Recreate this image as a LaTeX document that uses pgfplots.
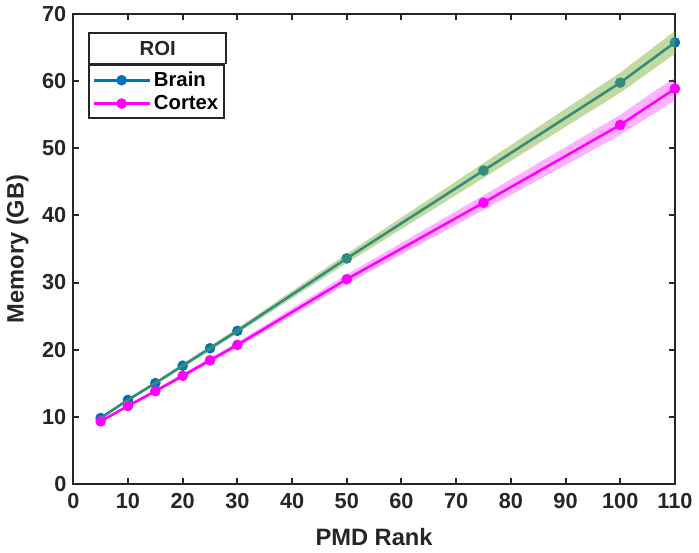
\documentclass[border=0pt]{standalone}
\usepackage{fontspec}
\setmainfont{Liberation Sans}
\usepackage{pgfplots}
\usepackage{pgfplotstable}
\pgfplotsset{compat=1.18}
\usetikzlibrary{calc}
\definecolor{mblue}{RGB}{0,114,189}
\definecolor{mgreen}{RGB}{119,172,48}
\definecolor{mmag}{RGB}{255,0,255}
\definecolor{axgray}{RGB}{38,38,38}

% rank and mean memory
\pgfplotstableread{
x    brain cortex
5    9.8   9.3
10   12.5  11.6
15   15.0  13.8
20   17.6  16.1
25   20.2  18.4
30   22.8  20.7
50   33.6  30.5
75   46.7  41.9
100  59.8  53.5
110  65.8  58.9
}\memdata

\begin{document}
\begin{tikzpicture}
\begin{axis}[
    scale only axis,
    width=305pt, height=238pt,
    xmin=0, xmax=110, ymin=0, ymax=70,
    xtick={0,10,...,110}, ytick={0,10,...,70},
    tick align=inside, major tick length=3pt,
    axis line style={axgray, line width=1pt},
    every tick/.style={axgray, line width=1pt},
    ticklabel style={font=\bfseries\fontsize{11}{13}\selectfont, text=axgray},
    xticklabel style={yshift=-1.5pt},
    /pgf/number format/assume math mode=true,
    xlabel={\bfseries PMD Rank}, ylabel={\bfseries Memory (GB)},
    xlabel shift=3pt,
    label style={font=\fontsize{12}{14}\selectfont, text=axgray},
    clip=false, clip marker paths=true,
    legend style={at={(rel axis cs:0.025,0.893)}, anchor=north west, name=leg,
        draw=axgray, line width=1pt, font=\bfseries\fontsize{10.3}{12}\selectfont,
        inner sep=1.5pt, nodes={inner sep=1.5pt}, row sep=0pt, cells={anchor=west}},
    legend image code/.code={\draw[mark repeat=2,mark phase=2]
        plot coordinates {(0cm,0cm)(0.5cm,0cm)(1cm,0cm)};},
]
\addplot[mblue, line width=1.3pt, mark=*, mark size=2pt] table[x=x, y=brain] {\memdata};
\addlegendentry{Brain}
\addplot[mmag, line width=1.3pt, mark=*, mark size=2pt] table[x=x, y=cortex] {\memdata};
\addlegendentry{Cortex}

% spread bands: upper edge, then lower edge back
\addplot[draw=none, fill=mgreen, fill opacity=0.45, forget plot] coordinates {
    (5,9.95)(10,12.7)(15,15.25)(20,17.9)(25,20.55)(30,23.2)(50,34.3)(75,47.8)(100,61.3)(110,67.5)
    (110,64.1)(100,58.3)(75,45.6)(50,32.9)(30,22.4)(25,19.85)(20,17.3)(15,14.75)(10,12.3)(5,9.65)
} -- cycle;
\addplot[draw=none, fill=mmag, fill opacity=0.3, forget plot] coordinates {
    (5,9.45)(10,11.8)(15,14.05)(20,16.4)(25,18.75)(30,21.1)(50,31.2)(75,43.0)(100,55.0)(110,60.6)
    (110,57.2)(100,52.0)(75,40.8)(50,29.8)(30,20.3)(25,18.05)(20,15.8)(15,13.55)(10,11.4)(5,9.15)
} -- cycle;
\end{axis}
\path let \p1=($(leg.north east)-(leg.north west)$) in
    node[draw=axgray, line width=1pt, anchor=south west, minimum width=\x1,
         minimum height=15.5pt, inner sep=0pt, font=\bfseries\fontsize{10.3}{12}\selectfont, text=axgray]
    at (leg.north west) {ROI};
\end{tikzpicture}
\end{document}
